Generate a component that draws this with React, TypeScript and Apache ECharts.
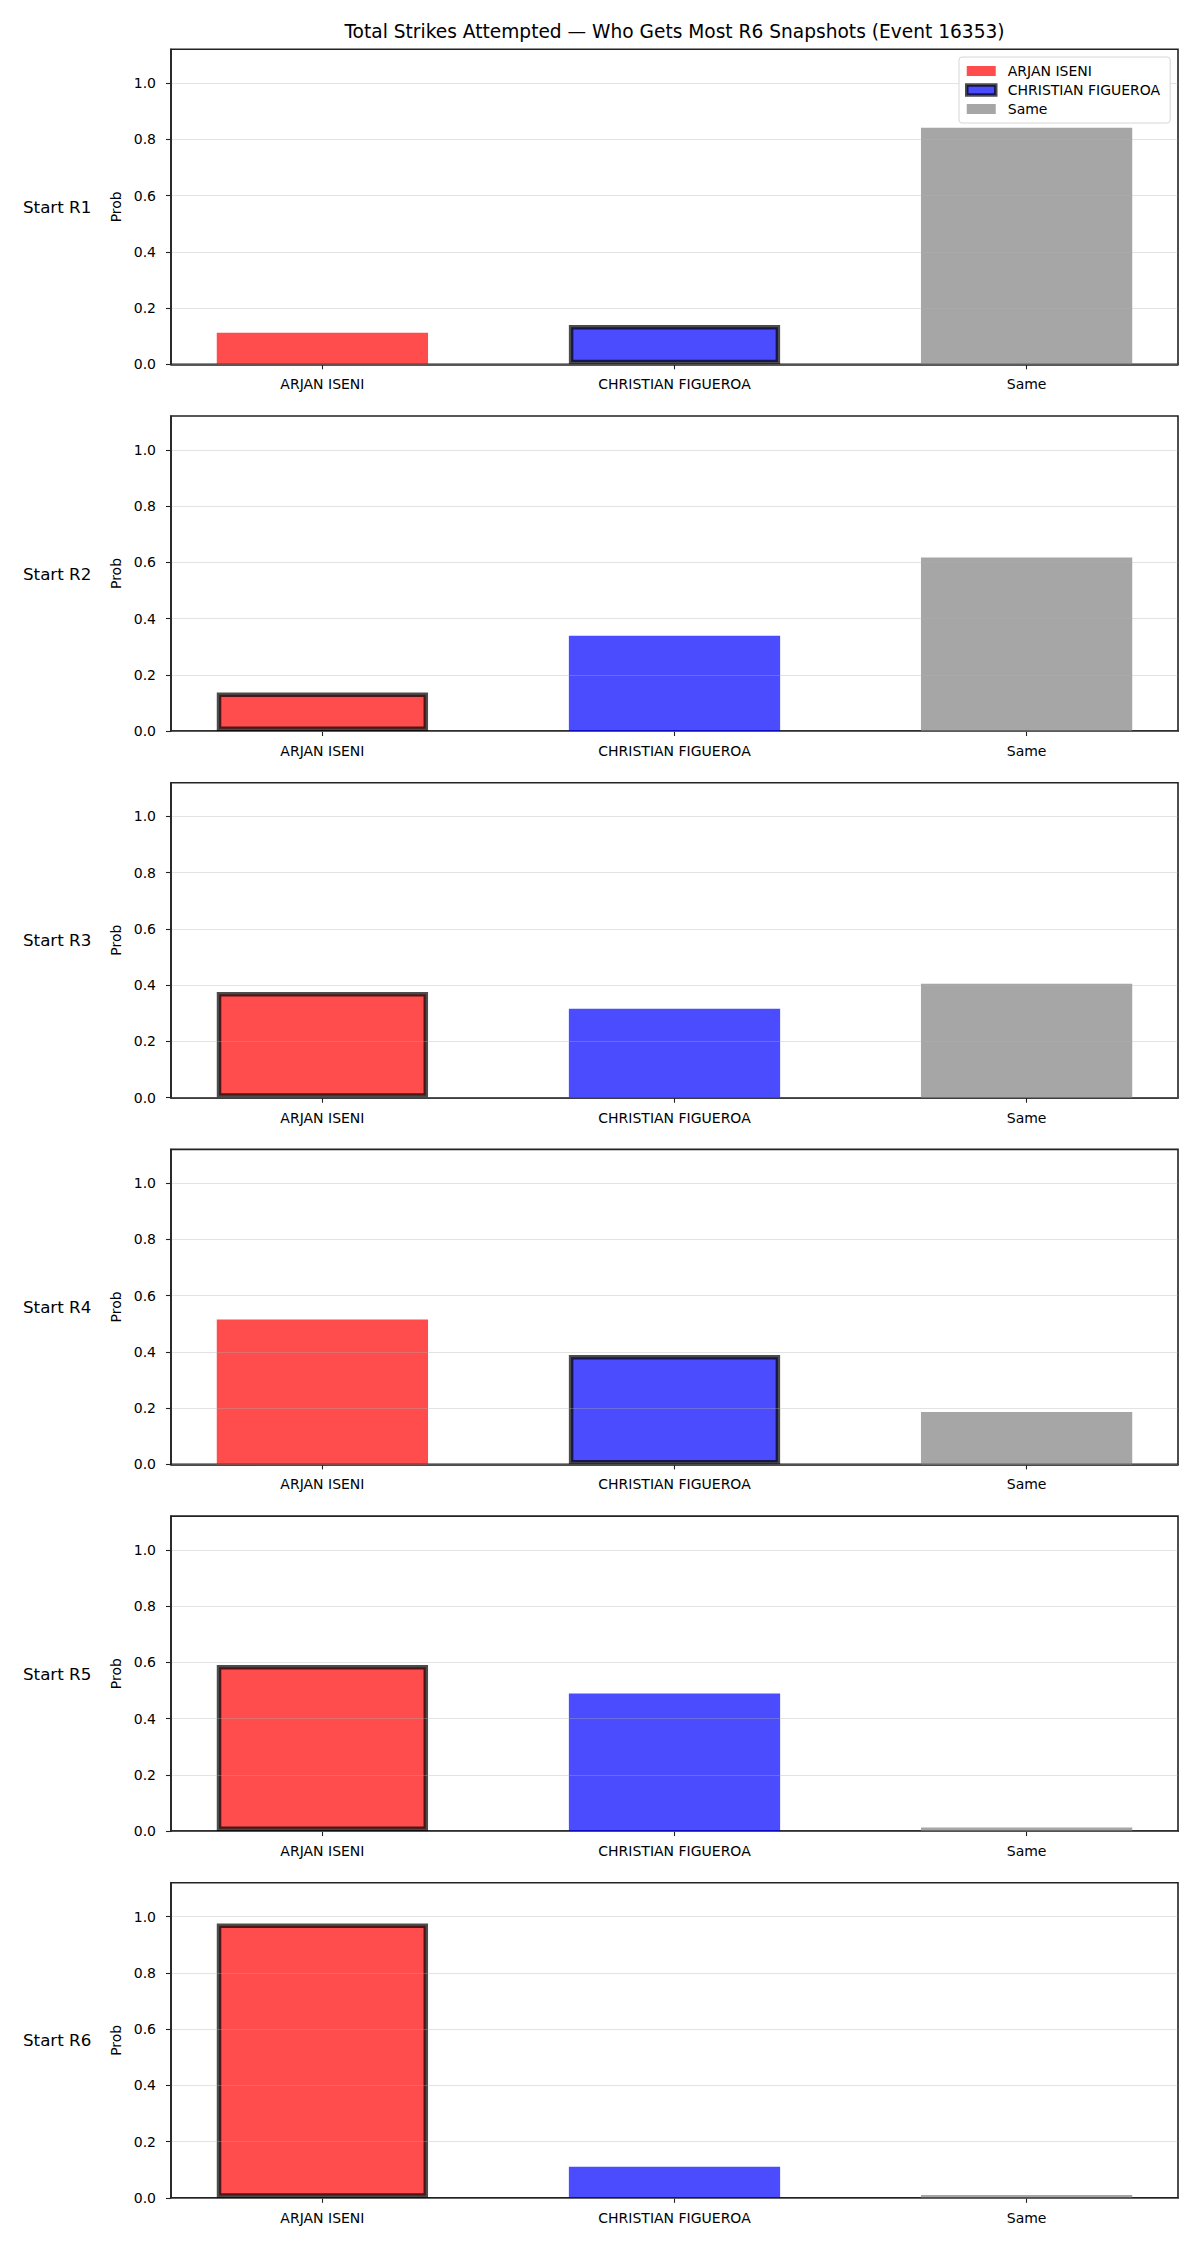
import React, { useEffect, useRef } from "react";
import * as echarts from "echarts";

// ---------- data ----------
const TITLE = "Total Strikes Attempted — Who Gets Most R6 Snapshots (Event 16353)";
const categories = ["ARJAN ISENI", "CHRISTIAN FIGUEROA", "Same"];
const panelLabels = ["Start R1", "Start R2", "Start R3", "Start R4", "Start R5", "Start R6"];
const arjanProb = [0.112, 0.137, 0.376, 0.515, 0.591, 0.975];
const christianProb = [0.14, 0.339, 0.316, 0.389, 0.489, 0.11];
const sameProb = [0.841, 0.617, 0.405, 0.186, 0.013, 0.01];
// index of the category outlined in each panel
const highlighted = [1, 0, 0, 1, 0, 0];
const yTickValues = [0, 0.2, 0.4, 0.6, 0.8, 1.0];
const xTickValues = [0, 1, 2];

// ---------- layout / style ----------
const W = 1200;
const H = 2250;
const PLOT_LEFT = 171;
const PLOT_W = 1007;
const PLOT_TOP0 = 49.3;
const PLOT_STEP = 366.7;
const PLOT_H = 315;
const X_MIN = -0.43;
const X_MAX = 2.43;
const Y_MAX = 1.12;
const BAR_UNITS = 0.6;
const FONT = "DejaVu Sans";
const fills = ["rgba(255,0,0,0.7)", "rgba(0,0,255,0.7)", "rgba(128,128,128,0.7)"];
const EDGE = "rgba(0,0,0,0.7)";
const SPINE = "#222222";

export default function App() {
  const ref = useRef<HTMLDivElement>(null);

  useEffect(() => {
    document.body.style.margin = "0";
    if (!ref.current) return;
    const chart = echarts.init(ref.current, undefined, { renderer: "svg" });

    const values = [arjanProb, christianProb, sameProb];
    const barWidthPx = (BAR_UNITS * PLOT_W) / (X_MAX - X_MIN);

    const grids: any[] = [];
    const xAxes: any[] = [];
    const yAxes: any[] = [];
    const series: any[] = [];
    const graphics: any[] = [];

    panelLabels.forEach((label, p) => {
      const top = PLOT_TOP0 + p * PLOT_STEP;
      grids.push({
        left: PLOT_LEFT,
        top,
        width: PLOT_W,
        height: PLOT_H,
        show: true,
        borderColor: SPINE,
        borderWidth: 1.6,
        backgroundColor: "transparent",
      });
      xAxes.push({
        type: "value",
        gridIndex: p,
        min: X_MIN,
        max: X_MAX,
        axisLine: { show: true, onZero: false, lineStyle: { color: SPINE, width: 1.6 } },
        axisTick: { show: true, customValues: xTickValues, length: 5, lineStyle: { color: SPINE, width: 1.1 } },
        axisLabel: {
          show: true,
          customValues: xTickValues,
          formatter: (v: number) => categories[Math.round(v)] ?? "",
          color: "#000",
          fontFamily: FONT,
          fontSize: 14,
          margin: 13,
        },
        splitLine: { show: false },
      });
      yAxes.push({
        type: "value",
        gridIndex: p,
        min: 0,
        max: Y_MAX,
        interval: 0.2,
        z: 5,
        name: "Prob",
        nameLocation: "middle",
        nameGap: 48,
        nameTextStyle: { color: "#000", fontFamily: FONT, fontSize: 14 },
        axisLine: { show: true, onZero: false, lineStyle: { color: SPINE, width: 1.6 } },
        axisTick: { show: true, customValues: yTickValues, length: 5, lineStyle: { color: SPINE, width: 1.1 } },
        axisLabel: {
          show: true,
          customValues: yTickValues,
          formatter: (v: number) => v.toFixed(1),
          color: "#000",
          fontFamily: FONT,
          fontSize: 14,
          margin: 15,
        },
        splitLine: { show: true, lineStyle: { color: "rgba(176,176,176,0.35)", width: 1.1 } },
      });
      categories.forEach((cat, c) => {
        const isHi = highlighted[p] === c;
        series.push({
          name: cat,
          type: "bar",
          xAxisIndex: p,
          yAxisIndex: p,
          barWidth: barWidthPx,
          barGap: "-100%",
          data: [[xTickValues[c], values[c][p]]],
          itemStyle: {
            color: fills[c],
            borderColor: isHi ? EDGE : fills[c],
            borderWidth: isHi ? 4.5 : 0,
          },
          emphasis: { disabled: true },
          z: 2,
        });
      });
      graphics.push({
        type: "text",
        x: 23,
        y: top + PLOT_H / 2,
        style: {
          text: label,
          fill: "#000",
          font: `16.7px ${FONT}`,
          textAlign: "left",
          textVerticalAlign: "middle",
        },
      });
    });

    graphics.push({
      type: "text",
      x: PLOT_LEFT + PLOT_W / 2,
      y: 31.7,
      style: {
        text: TITLE,
        fill: "#000",
        font: `18.6px ${FONT}`,
        textAlign: "center",
        textVerticalAlign: "middle",
      },
    });

    chart.setOption({
      animation: false,
      backgroundColor: "#ffffff",
      textStyle: { fontFamily: FONT },
      grid: grids,
      xAxis: xAxes,
      yAxis: yAxes,
      series,
      graphic: graphics,
      legend: {
        data: categories.map((c, i) =>
          i === highlighted[0]
            ? { name: c, itemStyle: { borderWidth: 3.5, borderColor: EDGE } }
            : { name: c }
        ),
        orient: "vertical",
        left: 959,
        top: 57,
        icon: "rect",
        itemWidth: 29,
        itemHeight: 10,
        itemGap: 5,
        padding: [7, 10, 7, 6],
        backgroundColor: "#ffffff",
        borderColor: "#d6d6d6",
        borderWidth: 1,
        borderRadius: 3,
        selectedMode: false,
        textStyle: { color: "#000", fontFamily: FONT, fontSize: 14, padding: [0, 0, 0, 7] },
        z: 10,
      },
    });

    return () => chart.dispose();
  }, []);

  return <div ref={ref} style={{ width: W, height: H }} />;
}
